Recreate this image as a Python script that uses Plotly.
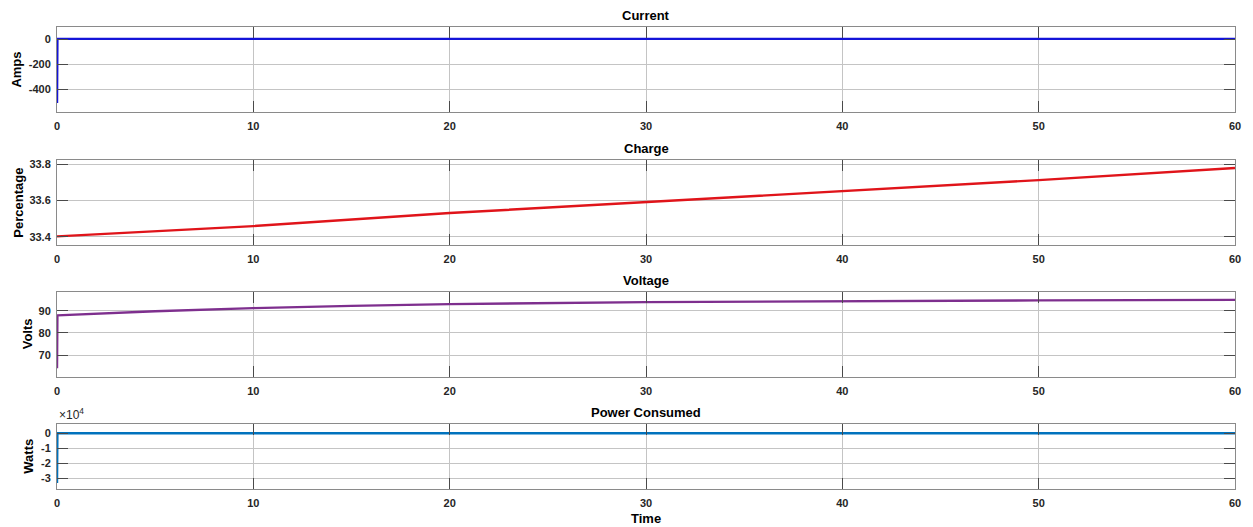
import plotly.graph_objects as go

# ---- data ----
time_current = [0, 0.02, 10, 20, 30, 40, 50, 60]
current_amps = [-512, 0.8, 0.8, 0.8, 0.8, 0.8, 0.8, 0.8]

time_charge = [0, 10, 20, 30, 40, 50, 60]
charge_pct = [33.402, 33.459, 33.531, 33.592, 33.652, 33.713, 33.78]

time_voltage = [0, 0.02, 5, 10, 15, 20, 30, 40, 50, 60]
voltage_volts = [64.0, 87.9, 89.8, 91.2, 92.2, 93.0, 93.9, 94.4, 94.7, 94.9]

time_power = [0, 0.02, 10, 20, 30, 40, 50, 60]
power_watts = [-33300, 60, 60, 60, 60, 60, 60, 60]

x_ticks = [0, 10, 20, 30, 40, 50, 60]
current_ticks = [0, -200, -400]
current_ticktext = ["0", "-200", "-400"]
charge_ticks = [33.4, 33.6, 33.8]
charge_ticktext = ["33.4", "33.6", "33.8"]
voltage_ticks = [70, 80, 90]
voltage_ticktext = ["70", "80", "90"]
power_ticks = [0, -10000, -20000, -30000]
power_ticktext = ["0", "-1", "-2", "-3"]

titles = ["Current", "Charge", "Voltage", "Power Consumed"]
ylabels = ["Amps", "Percentage", "Volts", "Watts"]

FONT = "Liberation Sans, Arial, sans-serif"
GRID = "#c4c4c4"
FRAME = "#8a8a8a"
TICKC = "#4a4a4a"
TXT = "#262626"

domains = [(0.816, 1.0), (0.528, 0.712), (0.243, 0.427), (0.0, 0.140)]
yranges = [(-584, 96), (33.354, 33.824), (60.2, 98.6), (-37400, 6100)]
yticks = [(current_ticks, current_ticktext), (charge_ticks, charge_ticktext),
          (voltage_ticks, voltage_ticktext), (power_ticks, power_ticktext)]
series = [(time_current, current_amps, "#1414d8"),
          (time_charge, charge_pct, "#e0141a"),
          (time_voltage, voltage_volts, "#7E2F8E"),
          (time_power, power_watts, "#0072BD")]
ylabel_px = [16, 18, 27, 29]

fig = go.Figure()
layout = dict(
    width=1253, height=527,
    margin=dict(l=57, r=16, t=27, b=38),
    paper_bgcolor="white", plot_bgcolor="white",
    showlegend=False,
    font=dict(family=FONT, color=TXT),
)
annotations = []
for i in range(4):
    xs, ys, col = series[i]
    n = "" if i == 0 else str(i + 1)
    fig.add_trace(go.Scatter(x=xs, y=ys, mode="lines",
                             line=dict(color=col, width=2.4),
                             xaxis="x" + n, yaxis="y" + n))
    layout["xaxis" + n] = dict(
        domain=[0, 1], anchor="y" + n, range=[0, 60],
        tickvals=x_ticks, ticktext=[str(v) for v in x_ticks],
        ticks="inside", ticklen=11, tickcolor=TICKC, tickwidth=1,
        showline=True, linecolor=FRAME, linewidth=1, mirror="ticks",
        showgrid=True, gridcolor=GRID, gridwidth=1, zeroline=False,
        tickfont=dict(family=FONT, size=11, color=TXT, weight="bold"),
        ticklabelstandoff=4,
    )
    tv, tt = yticks[i]
    layout["yaxis" + n] = dict(
        domain=list(domains[i]), anchor="x" + n, range=list(yranges[i]),
        tickvals=tv, ticktext=tt,
        ticks="inside", ticklen=11, tickcolor=TICKC, tickwidth=1,
        showline=True, linecolor=FRAME, linewidth=1, mirror="ticks",
        showgrid=True, gridcolor=GRID, gridwidth=1, zeroline=False,
        tickfont=dict(family=FONT, size=11, color=TXT, weight="bold"),
        ticklabelstandoff=3,
    )
    annotations.append(dict(
        text="<b>%s</b>" % titles[i], xref="paper", yref="paper",
        x=0.5, y=domains[i][1], xanchor="center", yanchor="bottom",
        yshift=2, showarrow=False,
        font=dict(family=FONT, size=13, color="black")))
    annotations.append(dict(
        text="<b>%s</b>" % ylabels[i], xref="paper", yref="paper",
        x=(ylabel_px[i] - 57) / 1180, y=sum(domains[i]) / 2,
        xanchor="center", yanchor="middle", textangle=-90, showarrow=False,
        font=dict(family=FONT, size=13, color="black")))

annotations.append(dict(
    text="×10<sup>4</sup>", xref="paper", yref="paper",
    x=0.0, y=domains[3][1], xanchor="left", yanchor="bottom",
    yshift=0, showarrow=False,
    font=dict(family=FONT, size=12, color=TXT)))
annotations.append(dict(
    text="<b>Time</b>", xref="paper", yref="paper",
    x=0.5, y=0, xanchor="center", yanchor="top", yshift=-20,
    showarrow=False, font=dict(family=FONT, size=13, color="black")))

layout["annotations"] = annotations
fig.update_layout(**layout)
fig.write_html("out.html",
               config={"displayModeBar": False},
               post_script="document.body.style.margin='0';"
                           "document.body.style.overflow='hidden';")
